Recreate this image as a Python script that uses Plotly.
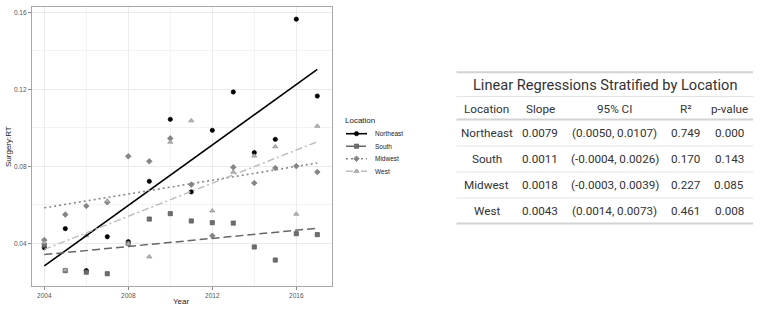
import numpy as np
import plotly.graph_objects as go

years = list(range(2004, 2018))
northeast = [0.0377, 0.0476, 0.0258, 0.0434, 0.0408, 0.0722, 0.1044, 0.0667, 0.0987, 0.1186, 0.0871, 0.0940, 0.1564, 0.1165]
south     = [0.0390, 0.0258, 0.0250, 0.0242, 0.0400, 0.0526, 0.0554, 0.0516, 0.0507, 0.0505, 0.0381, 0.0313, 0.0450, 0.0445]
midwest   = [0.0417, 0.0549, 0.0594, 0.0613, 0.0852, 0.0826, 0.0945, 0.0705, 0.0439, 0.0795, 0.0713, 0.0791, 0.0801, 0.0770]
west      = [0.0403, 0.0261, 0.0440, 0.0620, 0.0397, 0.0330, 0.0926, 0.1037, 0.0569, 0.0770, 0.0854, 0.0902, 0.0552, 0.1009]

locations = ["Northeast", "South", "Midwest", "West"]
series = [northeast, south, midwest, west]

x_ticks = [2004, 2008, 2012, 2016]
y_ticks = [0.04, 0.08, 0.12, 0.16]

table_title = "Linear Regressions Stratified by Location"
table_header = ["Location", "Slope", "95% CI", "R²", "p-value"]
slopes = ["0.0079", "0.0011", "0.0018", "0.0043"]
cis = ["(0.0050, 0.0107)", "(-0.0004, 0.0026)", "(-0.0003, 0.0039)", "(0.0014, 0.0073)"]
r2s = ["0.749", "0.170", "0.227", "0.461"]
pvals = ["0.000", "0.143", "0.085", "0.008"]

# styles
styles = {
    "Northeast": dict(symbol="circle", msize=4.3, mcolor="#000000", mline="#000000",
                      lcolor="#000000", dash="solid", lwidth=1.6),
    "South": dict(symbol="square", msize=4.2, mcolor="#6e6e6e", mline="#555555",
                  lcolor="#666666", dash="8px,4px", lwidth=1.5),
    "Midwest": dict(symbol="diamond", msize=4.3, mcolor="#858585", mline="#777777",
                    lcolor="#888888", dash="2px,3px", lwidth=1.6),
    "West": dict(symbol="triangle-up", msize=4.6, mcolor="#b8b8b8", mline="#8a8a8a",
                 lcolor="#bdbdbd", dash="7px,3px,2px,3px", lwidth=1.5),
}

W, H = 761, 310
fig = go.Figure()

yrs = np.array(years, dtype=float)
for loc, vals in zip(locations, series):
    s = styles[loc]
    fig.add_trace(go.Scatter(
        x=years, y=vals, mode="markers", showlegend=False,
        marker=dict(symbol=s["symbol"], size=s["msize"], color=s["mcolor"],
                    line=dict(color=s["mline"], width=0.7)),
        xaxis="x", yaxis="y"))
for loc, vals in zip(locations, series):
    s = styles[loc]
    b, a = np.polyfit(yrs, np.array(vals), 1)
    xf = [years[0], years[-1]]
    yf = [a + b * xf[0], a + b * xf[1]]
    fig.add_trace(go.Scatter(
        x=xf, y=yf, mode="lines", showlegend=False,
        line=dict(color=s["lcolor"], width=s["lwidth"], dash=s["dash"]),
        xaxis="x", yaxis="y"))

# legend glyphs (pixel overlay axis)
leg_y0, leg_dy = 133.7, 12.5
for i, loc in enumerate(locations):
    s = styles[loc]
    yy = leg_y0 + i * leg_dy
    fig.add_trace(go.Scatter(
        x=[346, 367], y=[yy, yy], mode="lines", showlegend=False,
        line=dict(color=s["lcolor"], width=s["lwidth"], dash=s["dash"]),
        xaxis="x2", yaxis="y2", hoverinfo="skip"))
    fig.add_trace(go.Scatter(
        x=[356.5], y=[yy], mode="markers", showlegend=False,
        marker=dict(symbol=s["symbol"], size=s["msize"], color=s["mcolor"],
                    line=dict(color=s["mline"], width=0.7)),
        xaxis="x2", yaxis="y2", hoverinfo="skip"))

annotations = []
annotations.append(dict(x=343, y=120, xref="x2", yref="y2", text="Location",
                        showarrow=False, xanchor="left", yanchor="middle",
                        font=dict(size=8, color="#222222")))
for i, loc in enumerate(locations):
    annotations.append(dict(x=373, y=leg_y0 + i * leg_dy, xref="x2", yref="y2", text=loc,
                            showarrow=False, xanchor="left", yanchor="middle",
                            font=dict(size=6.5, color="#222222")))

# axis titles
annotations.append(dict(x=181, y=301.5, xref="x2", yref="y2", text="Year", showarrow=False,
                        xanchor="center", yanchor="middle", font=dict(size=8, color="#222222")))
annotations.append(dict(x=8, y=147, xref="x2", yref="y2", text="Surgery:RT", showarrow=False,
                        textangle=-90, xanchor="center", yanchor="middle",
                        font=dict(size=8, color="#222222")))

# table
tfont = "Roboto, Arial, sans-serif"
tcolor = "#333333"
col_x = [486.7, 540.3, 614.5, 685.5, 729.2]
annotations.append(dict(x=605, y=85, xref="x2", yref="y2", text=table_title, showarrow=False,
                        xanchor="center", yanchor="middle",
                        font=dict(size=14.6, color=tcolor, family=tfont)))
for cx, h in zip(col_x, table_header):
    annotations.append(dict(x=cx, y=109, xref="x2", yref="y2", text=h, showarrow=False,
                            xanchor="center", yanchor="middle",
                            font=dict(size=11.7, color=tcolor, family=tfont)))
row_y = [133.3, 159.3, 185.3, 211]
for i in range(len(locations)):
    row = [locations[i], slopes[i], cis[i], r2s[i], pvals[i]]
    for cx, txt in zip(col_x, row):
        annotations.append(dict(x=cx, y=row_y[i], xref="x2", yref="y2", text=txt, showarrow=False,
                                xanchor="center", yanchor="middle",
                                font=dict(size=11.7, color=tcolor, family=tfont)))

shapes = []
tx0, tx1 = 456.5, 753
for yy, col, w in [(72.3, "#d3d3d3", 2), (96.5, "#e3e3e3", 1), (119.5, "#d3d3d3", 2),
                   (146, "#e3e3e3", 1), (172, "#e3e3e3", 1), (198, "#e3e3e3", 1),
                   (223.5, "#d3d3d3", 2)]:
    shapes.append(dict(type="line", xref="x2", yref="y2", x0=tx0, x1=tx1, y0=yy, y1=yy,
                       line=dict(color=col, width=w)))

px0, px1, py0, py1 = 32, 332, 7, 286
fig.update_layout(
    width=W, height=H, margin=dict(l=0, r=0, t=0, b=0),
    paper_bgcolor="white", plot_bgcolor="rgba(0,0,0,0)",
    font=dict(family="Liberation Sans, Arial, sans-serif"),
    annotations=annotations, shapes=shapes,
    xaxis=dict(domain=[px0 / W, px1 / W], range=[2003.414, 2017.70],
               tickvals=x_ticks, ticktext=[str(v) for v in x_ticks],
               showgrid=True, gridcolor="#ebebeb", gridwidth=1,
               minor=dict(tickvals=[2006, 2010, 2014], showgrid=True, gridcolor="#f3f3f3", gridwidth=0.6),
               zeroline=False, showline=True, mirror=True, linecolor="#a8a8a8", linewidth=1.2,
               ticks="outside", ticklen=3, tickcolor="#888888", tickwidth=0.8,
               tickfont=dict(size=6.5, color="#555555"), anchor="y", fixedrange=True),
    yaxis=dict(domain=[1 - py1 / H, 1 - py0 / H], range=[0.01782, 0.16275],
               tickvals=y_ticks, ticktext=["0.04", "0.08", "0.12", "0.16"],
               showgrid=True, gridcolor="#ebebeb", gridwidth=1,
               minor=dict(tickvals=[0.06, 0.10, 0.14], showgrid=True, gridcolor="#f3f3f3", gridwidth=0.6),
               zeroline=False, showline=True, mirror=True, linecolor="#a8a8a8", linewidth=1.2,
               ticks="outside", ticklen=3, tickcolor="#888888", tickwidth=0.8,
               tickfont=dict(size=6.5, color="#555555"), anchor="x", fixedrange=True),
    xaxis2=dict(domain=[0, 1], range=[0, W], visible=False, anchor="y2", fixedrange=True),
    yaxis2=dict(domain=[0, 1], range=[H, 0], visible=False, anchor="x2", fixedrange=True),
)

fig.write_html("out.html")
